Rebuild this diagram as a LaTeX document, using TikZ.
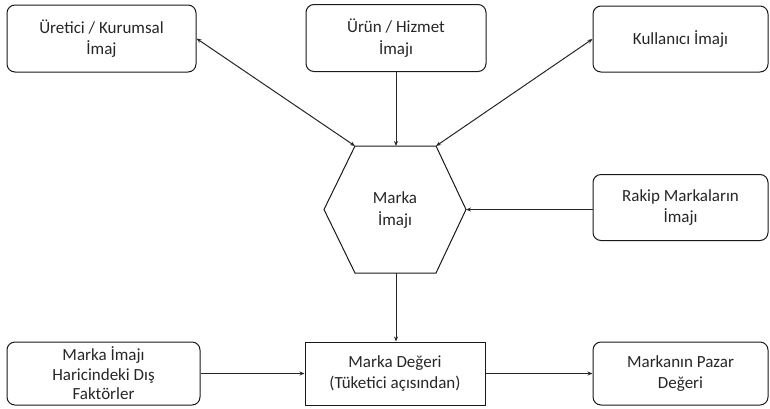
\documentclass[tikz,border=0pt]{standalone}
\usepackage{fontspec}
\setmainfont{Carlito}
\usetikzlibrary{arrows.meta}
\begin{document}
\begin{tikzpicture}[x=1pt,y=-1pt,
  txt/.style={align=center,font=\fontsize{17}{21.5}\selectfont,text=black!85},
  rbox/.style={txt,draw=black!90,line width=1pt,rounded corners=8pt,inner sep=0pt},
  sbox/.style={txt,draw=black!90,line width=1pt,inner sep=0pt},
  conn/.style={line width=1pt,draw=black!85,-{Stealth[length=5pt,width=4pt]}},
  bconn/.style={line width=1pt,draw=black!85,{Stealth[length=5pt,width=4pt]}-{Stealth[length=5pt,width=4pt]}}]
\useasboundingbox (0,0) rectangle (770,408);
\node[rbox,minimum width=189pt,minimum height=67pt] (ure) at (101.5,38.5) {Üretici / Kurumsal\\İmaj};
\node[rbox,minimum width=180pt,minimum height=67pt] (uru) at (396,38) {Ürün / Hizmet\\İmajı};
\node[rbox,minimum width=175pt,minimum height=66pt] (kul) at (680.5,39) {Kullanıcı İmajı};
\node[rbox,minimum width=175pt,minimum height=66pt] (rak) at (680.5,207.5) {Rakip Markaların\\İmajı};
\node[rbox,minimum width=193pt,minimum height=63pt] (dis) at (103.5,373.5) {Marka İmajı\\[-2pt]Haricindeki Dış\\[-2pt]Faktörler};
\node[sbox,minimum width=180pt,minimum height=63pt] (deg) at (395,373.5) {Marka Değeri\\(Tüketici açısından)};
\node[rbox,minimum width=175pt,minimum height=63pt] (paz) at (680.5,373.5) {Markanın Pazar\\Değeri};
% hexagon
\coordinate (hl) at (324,209.5);
\coordinate (htl) at (355,146);
\coordinate (htc) at (396,146);
\coordinate (htr) at (436,146);
\coordinate (hr) at (466,209.5);
\coordinate (hbr) at (436,273);
\coordinate (hbc) at (396,273);
\coordinate (hbl) at (355,273);
\draw[draw=black!90,line width=1pt] (hl) -- (htl) -- (htr) -- (hr) -- (hbr) -- (hbl) -- cycle;
\node[txt] (hex) at (395,210) {Marka\\İmajı};
% connectors
\draw[bconn] (ure.east) -- (htl);
\draw[bconn] (kul.west) -- (htr);
\draw[conn] (uru.south) -- (htc);
\draw[conn] (hr -| rak.west) -- (hr);
\draw[conn] (hbc) -- (hbc |- deg.north);
\draw[conn] (dis.east) -- (deg.west);
\draw[conn] (deg.east) -- (paz.west);
\end{tikzpicture}
\end{document}
